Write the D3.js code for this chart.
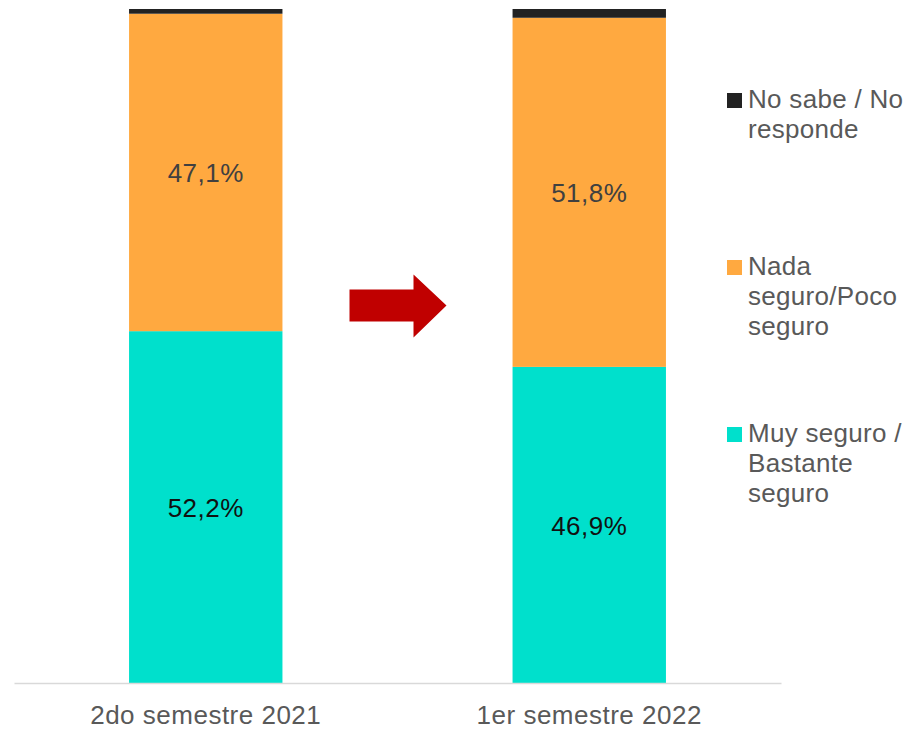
<!DOCTYPE html>
<html>
<head>
<meta charset="utf-8">
<script src="https://cdn.jsdelivr.net/npm/d3@7"></script>
<style>
  body { margin: 0; background: #fff; }
  text { font-family: "Liberation Sans", Arial, sans-serif; }
</style>
</head>
<body>
<div id="chart"></div>
<script>
// data
var periods = ["2do semestre 2021", "1er semestre 2022"];
var seriesNames = ["Muy seguro / Bastante seguro", "Nada seguro/Poco seguro", "No sabe / No responde"];
var muySeguro = [52.2, 46.9];
var nadaSeguro = [47.1, 51.8];
var noSabe = [0.7, 1.3];

var legendLines = [["Muy seguro /", "Bastante", "seguro"], ["Nada", "seguro/Poco", "seguro"], ["No sabe / No", "responde"]];
var colors = ["#00E0CC", "#FFA940", "#222222"];

var width = 905, height = 731;
var margin = { top: 9, left: 14, right: 124, bottom: 48 };

var svg = d3.select("#chart").append("svg")
    .attr("width", width)
    .attr("height", height);

var rows = periods.map(function (p, i) {
    return { period: p, s0: muySeguro[i], s1: nadaSeguro[i], s2: noSabe[i] };
});
var stack = d3.stack().keys(["s0", "s1", "s2"]);
var series = stack(rows);

var x = d3.scaleBand().domain(periods)
    .range([margin.left, width - margin.right])
    .paddingInner(0.6).paddingOuter(0.3);
var y = d3.scaleLinear().domain([0, 100])
    .range([height - margin.bottom, margin.top]);

// bars
svg.append("g").selectAll("g")
    .data(series)
    .enter().append("g")
    .attr("fill", function (d, i) { return colors[i]; })
    .selectAll("rect")
    .data(function (d) { return d; })
    .enter().append("rect")
    .attr("x", function (d) { return x(d.data.period); })
    .attr("width", x.bandwidth())
    .attr("y", function (d) { return y(d[1]); })
    .attr("height", function (d) { return y(d[0]) - y(d[1]); });

// value labels (only the two large segments)
series.slice(0, 2).forEach(function (s, si) {
    svg.append("g").selectAll("text")
        .data(s)
        .enter().append("text")
        .attr("x", function (d) { return x(d.data.period) + x.bandwidth() / 2; })
        .attr("y", function (d) { return (y(d[0]) + y(d[1])) / 2 + 10; })
        .attr("text-anchor", "middle")
        .style("font-size", "26px")
        .style("letter-spacing", "0.5px")
        .style("fill", si === 0 ? "#111111" : "#404040")
        .text(function (d) { return (d[1] - d[0]).toFixed(1).replace(".", ",") + "%"; });
});

// x axis
var xAxis = svg.append("g")
    .attr("transform", "translate(0," + (height - margin.bottom) + ")")
    .call(d3.axisBottom(x).tickSize(0).tickPadding(23));
xAxis.select(".domain").attr("stroke", "#d9d9d9").attr("stroke-width", 1.5);
xAxis.selectAll("text")
    .style("font-size", "26px")
    .style("letter-spacing", "0.5px")
    .style("font-family", "'Liberation Sans', Arial, sans-serif")
    .attr("fill", "#595959");

// red arrow between bars
var ax = x(periods[0]) + x.bandwidth(), bx = x(periods[1]);
var midX = (ax + bx) / 2;
var ay = y(56);
var arrow = d3.path();
arrow.moveTo(midX - 48, ay - 16);
arrow.lineTo(midX + 16, ay - 16);
arrow.lineTo(midX + 16, ay - 31);
arrow.lineTo(midX + 49, ay);
arrow.lineTo(midX + 16, ay + 32);
arrow.lineTo(midX + 16, ay + 16);
arrow.lineTo(midX - 48, ay + 16);
arrow.closePath();
svg.append("path").attr("d", arrow.toString()).attr("fill", "#C00000");

// legend (top to bottom: no sabe, nada, muy)
var legendY = [108, 275, 442];
var legend = svg.append("g");
[2, 1, 0].forEach(function (k, j) {
    var g = legend.append("g").attr("transform", "translate(727," + legendY[j] + ")");
    g.append("rect").attr("x", 0).attr("y", -15).attr("width", 15).attr("height", 15)
        .attr("fill", colors[k]);
    legendLines[k].forEach(function (line, li) {
        g.append("text")
            .attr("x", 21)
            .attr("y", li * 30)
            .style("font-size", "26px")
            .style("letter-spacing", "0.3px")
            .style("fill", "#595959")
            .text(line);
    });
});
</script>
</body>
</html>
